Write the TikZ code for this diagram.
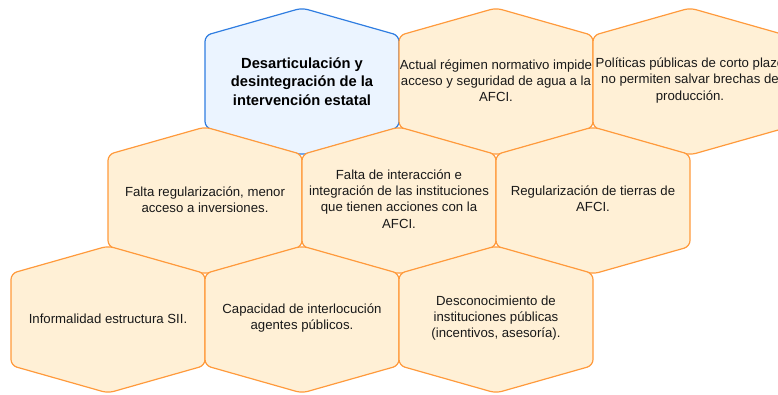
\documentclass[tikz,border=0pt]{standalone}
\usepackage{fontspec}
\setmainfont{Liberation Sans}
\definecolor{hexline}{HTML}{FF9A3C}
\definecolor{hexfill}{HTML}{FFF0D6}
\definecolor{titleline}{HTML}{2F7DE1}
\definecolor{titlefill}{HTML}{EBF4FF}
% hexagon with pointed top, centre (#1,#2)
\newcommand{\hexpath}[2]{(#1-97,#2-46) -- (#1,#2-73.5) -- (#1+97,#2-46) -- (#1+97,#2+46) -- (#1,#2+73.5) -- (#1-97,#2+46) -- cycle}
\tikzset{
  hexcell/.style={draw=hexline, fill=hexfill, line width=1.2pt, rounded corners=6pt},
  hextitle/.style={draw=titleline, fill=titlefill, line width=1.2pt, rounded corners=6pt},
  hextext/.style={align=center, font=\fontsize{13.2}{16.2}\selectfont, text=black!90},
  titletext/.style={align=center, font=\bfseries\fontsize{14.7}{18.3}\selectfont, text=black}
}
\begin{document}
\begin{tikzpicture}[x=1pt,y=-1pt]
                    \useasboundingbox (0,0) rectangle (778,394);
                    \clip (0,0) rectangle (778,394);
                    % first row
                    \draw[hextitle] \hexpath{302}{81.5};
                    \node[titletext] (desart) at (302,81.5) {Desarticulación y\\desintegración de la\\intervención estatal};
                    \draw[hexcell] \hexpath{496}{81.5};
                    \node[hextext] (regimen) at (496,80.5) {Actual régimen normativo impide\\acceso y seguridad de agua a la\\AFCI.};
                    \draw[hexcell] \hexpath{690}{81.5};
                    \node[hextext] (politicas) at (690,80.5) {Políticas públicas de corto plazo\\no permiten salvar brechas de\\producción.};

                    % second row
                    \draw[hexcell] \hexpath{205}{200.5};
                    \node[hextext] (falta) at (205,200) {Falta regularización, menor\\acceso a inversiones.};
                    \draw[hexcell] \hexpath{399}{200.5};
                    \node[hextext] (interaccion) at (399,199) {Falta de interacción e\\integración de las instituciones\\que tienen acciones con la\\AFCI.};
                    \draw[hexcell] \hexpath{593}{200.5};
                    \node[hextext] (tierras) at (593,199) {Regularización de tierras de\\AFCI.};

                    % third row
                    \draw[hexcell] \hexpath{108}{319.5};
                    \node[hextext] (sii) at (108,318.5) {Informalidad estructura SII.};
                    \draw[hexcell] \hexpath{302}{319.5};
                    \node[hextext] (interlocucion) at (302,318) {Capacidad de interlocución\\agentes públicos.};
                    \draw[hexcell] \hexpath{496}{319.5};
                    \node[hextext] (desconoc) at (496,318) {Desconocimiento de\\instituciones públicas\\(incentivos, asesoría).};
\end{tikzpicture}
\end{document}
